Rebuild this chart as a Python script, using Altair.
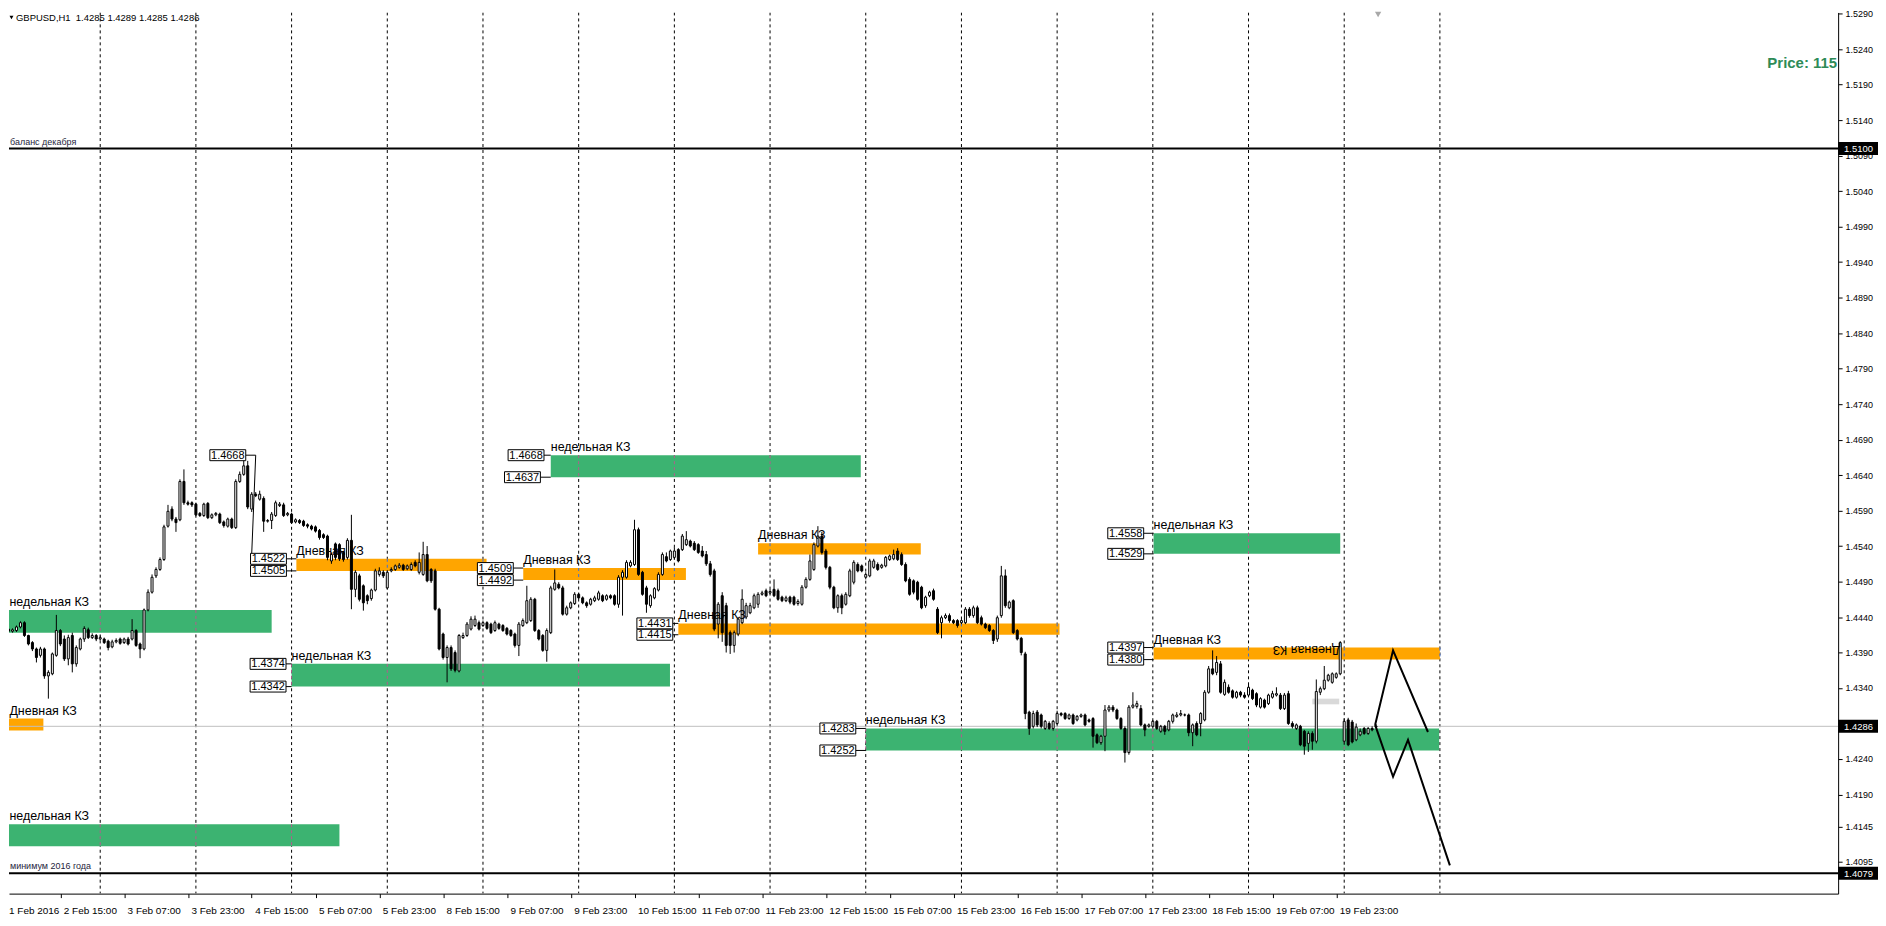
import altair as alt
import pandas as pd

# ------------------------------------------------------------------ data
# hourly candles, bar index 0 .. 344
opens = [
    1.4435, 1.4423, 1.4420, 1.4421, 1.4426, 1.4432, 1.4414, 1.4404, 1.4395, 1.4386,
    1.4395, 1.4357, 1.4360, 1.4386, 1.4421, 1.4409, 1.4381, 1.4414, 1.4374, 1.4395,
    1.4409, 1.4422, 1.4411, 1.4414, 1.4409, 1.4409, 1.4406, 1.4398, 1.4405, 1.4409,
    1.4404, 1.4409, 1.4409, 1.4421, 1.4402, 1.4395, 1.4450, 1.4475, 1.4498, 1.4507,
    1.4521, 1.4568, 1.4592, 1.4578, 1.4577, 1.4631, 1.4601, 1.4601, 1.4599, 1.4586,
    1.4583, 1.4600, 1.4580, 1.4584, 1.4585, 1.4574, 1.4568, 1.4578, 1.4566, 1.4631,
    1.4641, 1.4653, 1.4592, 1.4613, 1.4606, 1.4607, 1.4575, 1.4576, 1.4583, 1.4597,
    1.4598, 1.4584, 1.4585, 1.4574, 1.4576, 1.4575, 1.4570, 1.4568, 1.4567, 1.4562,
    1.4556, 1.4554, 1.4519, 1.4543, 1.4542, 1.4531, 1.4524, 1.4548, 1.4479, 1.4498,
    1.4484, 1.4470, 1.4466, 1.4478, 1.4500, 1.4503, 1.4481, 1.4505, 1.4507, 1.4510,
    1.4513, 1.4508, 1.4507, 1.4517, 1.4503, 1.4500, 1.4528, 1.4507, 1.4505, 1.4451,
    1.4416, 1.4383, 1.4397, 1.4390, 1.4364, 1.4411, 1.4414, 1.4423, 1.4428, 1.4432,
    1.4428, 1.4432, 1.4430, 1.4421, 1.4430, 1.4428, 1.4424, 1.4421, 1.4416, 1.4400,
    1.4428, 1.4432, 1.4435, 1.4465, 1.4421, 1.4414, 1.4393, 1.4418, 1.4479, 1.4486,
    1.4481, 1.4444, 1.4453, 1.4459, 1.4472, 1.4467, 1.4460, 1.4458, 1.4463, 1.4465,
    1.4470, 1.4465, 1.4470, 1.4470, 1.4458, 1.4496, 1.4496, 1.4512, 1.4514, 1.4563,
    1.4503, 1.4481, 1.4456, 1.4467, 1.4478, 1.4500, 1.4525, 1.4521, 1.4524, 1.4535,
    1.4535, 1.4542, 1.4547, 1.4544, 1.4542, 1.4533, 1.4528, 1.4515, 1.4505, 1.4430,
    1.4470, 1.4456, 1.4418, 1.4400, 1.4416, 1.4432, 1.4440, 1.4446, 1.4453, 1.4458,
    1.4472, 1.4477, 1.4474, 1.4479, 1.4477, 1.4468, 1.4463, 1.4468, 1.4468, 1.4459,
    1.4458, 1.4482, 1.4493, 1.4507, 1.4540, 1.4554, 1.4533, 1.4510, 1.4482, 1.4453,
    1.4470, 1.4458, 1.4470, 1.4489, 1.4514, 1.4512, 1.4496, 1.4498, 1.4510, 1.4514,
    1.4510, 1.4512, 1.4521, 1.4522, 1.4533, 1.4528, 1.4514, 1.4493, 1.4491, 1.4489,
    1.4482, 1.4456, 1.4470, 1.4477, 1.4451, 1.4432, 1.4439, 1.4442, 1.4435, 1.4435,
    1.4432, 1.4432, 1.4451, 1.4442, 1.4453, 1.4439, 1.4430, 1.4428, 1.4421, 1.4409,
    1.4442, 1.4498, 1.4453, 1.4463, 1.4421, 1.4410, 1.4388, 1.4306, 1.4286, 1.4306,
    1.4302, 1.4283, 1.4290, 1.4283, 1.4290, 1.4304, 1.4304, 1.4297, 1.4302, 1.4295,
    1.4300, 1.4302, 1.4295, 1.4297, 1.4274, 1.4263, 1.4272, 1.4309, 1.4313, 1.4309,
    1.4297, 1.4283, 1.4249, 1.4313, 1.4314, 1.4311, 1.4288, 1.4286, 1.4286, 1.4293,
    1.4279, 1.4286, 1.4281, 1.4293, 1.4300, 1.4302, 1.4302, 1.4302, 1.4277, 1.4290,
    1.4290, 1.4295, 1.4334, 1.4367, 1.4362, 1.4374, 1.4331, 1.4341, 1.4336, 1.4327,
    1.4334, 1.4330, 1.4330, 1.4337, 1.4332, 1.4313, 1.4323, 1.4318, 1.4327, 1.4330,
    1.4330, 1.4311, 1.4332, 1.4290, 1.4283, 1.4286, 1.4279, 1.4262, 1.4276, 1.4265,
    1.4334, 1.4339, 1.4351, 1.4348, 1.4355, 1.4360, 1.4265, 1.4295, 1.4292, 1.4267,
    1.4274, 1.4283, 1.4276, 1.4283, 1.4285,
]
highs = [
    1.4437, 1.4425, 1.4424, 1.4428, 1.4434, 1.4434, 1.4415, 1.4406, 1.4397, 1.4398,
    1.4397, 1.4365, 1.4390, 1.4443, 1.4423, 1.4414, 1.4415, 1.4418, 1.4400, 1.4411,
    1.4427, 1.4425, 1.4417, 1.4416, 1.4414, 1.4411, 1.4408, 1.4408, 1.4410, 1.4411,
    1.4411, 1.4412, 1.4437, 1.4423, 1.4404, 1.4452, 1.4479, 1.4500, 1.4510, 1.4524,
    1.4570, 1.4598, 1.4596, 1.4581, 1.4634, 1.4648, 1.4604, 1.4603, 1.4601, 1.4588,
    1.4601, 1.4602, 1.4586, 1.4588, 1.4587, 1.4576, 1.4580, 1.4580, 1.4634, 1.4645,
    1.4668, 1.4660, 1.4616, 1.4616, 1.4618, 1.4610, 1.4578, 1.4588, 1.4604, 1.4602,
    1.4601, 1.4588, 1.4587, 1.4579, 1.4578, 1.4577, 1.4572, 1.4570, 1.4569, 1.4564,
    1.4558, 1.4556, 1.4531, 1.4545, 1.4544, 1.4533, 1.4551, 1.4584, 1.4506, 1.4501,
    1.4486, 1.4472, 1.4480, 1.4508, 1.4510, 1.4506, 1.4506, 1.4510, 1.4514, 1.4516,
    1.4515, 1.4514, 1.4517, 1.4520, 1.4531, 1.4546, 1.4540, 1.4509, 1.4508, 1.4453,
    1.4418, 1.4400, 1.4400, 1.4393, 1.4416, 1.4418, 1.4433, 1.4441, 1.4442, 1.4435,
    1.4435, 1.4434, 1.4432, 1.4435, 1.4432, 1.4430, 1.4426, 1.4423, 1.4418, 1.4433,
    1.4438, 1.4484, 1.4468, 1.4467, 1.4423, 1.4416, 1.4424, 1.4484, 1.4507, 1.4489,
    1.4484, 1.4456, 1.4462, 1.4475, 1.4474, 1.4469, 1.4462, 1.4467, 1.4470, 1.4477,
    1.4472, 1.4472, 1.4472, 1.4472, 1.4499, 1.4506, 1.4520, 1.4520, 1.4577, 1.4566,
    1.4505, 1.4484, 1.4472, 1.4482, 1.4503, 1.4531, 1.4531, 1.4535, 1.4538, 1.4537,
    1.4557, 1.4561, 1.4549, 1.4547, 1.4544, 1.4540, 1.4533, 1.4519, 1.4508, 1.4461,
    1.4475, 1.4460, 1.4421, 1.4421, 1.4440, 1.4479, 1.4460, 1.4460, 1.4473, 1.4475,
    1.4477, 1.4480, 1.4479, 1.4493, 1.4480, 1.4470, 1.4470, 1.4470, 1.4470, 1.4465,
    1.4485, 1.4496, 1.4528, 1.4545, 1.4568, 1.4560, 1.4536, 1.4512, 1.4484, 1.4472,
    1.4473, 1.4475, 1.4508, 1.4520, 1.4517, 1.4514, 1.4503, 1.4522, 1.4522, 1.4517,
    1.4515, 1.4526, 1.4528, 1.4535, 1.4537, 1.4531, 1.4517, 1.4496, 1.4493, 1.4491,
    1.4484, 1.4470, 1.4477, 1.4480, 1.4454, 1.4442, 1.4445, 1.4445, 1.4437, 1.4437,
    1.4437, 1.4454, 1.4454, 1.4456, 1.4456, 1.4442, 1.4432, 1.4430, 1.4423, 1.4442,
    1.4512, 1.4507, 1.4463, 1.4465, 1.4423, 1.4412, 1.4391, 1.4308, 1.4308, 1.4309,
    1.4304, 1.4295, 1.4293, 1.4295, 1.4308, 1.4306, 1.4306, 1.4304, 1.4304, 1.4302,
    1.4304, 1.4304, 1.4297, 1.4299, 1.4276, 1.4274, 1.4316, 1.4316, 1.4316, 1.4311,
    1.4299, 1.4286, 1.4316, 1.4334, 1.4322, 1.4316, 1.4290, 1.4290, 1.4295, 1.4295,
    1.4288, 1.4288, 1.4295, 1.4304, 1.4306, 1.4309, 1.4304, 1.4304, 1.4290, 1.4293,
    1.4306, 1.4337, 1.4371, 1.4393, 1.4385, 1.4378, 1.4352, 1.4345, 1.4338, 1.4336,
    1.4336, 1.4334, 1.4345, 1.4339, 1.4334, 1.4327, 1.4325, 1.4332, 1.4336, 1.4341,
    1.4333, 1.4333, 1.4336, 1.4293, 1.4290, 1.4288, 1.4281, 1.4279, 1.4279, 1.4352,
    1.4342, 1.4371, 1.4360, 1.4362, 1.4362, 1.4406, 1.4297, 1.4298, 1.4295, 1.4290,
    1.4283, 1.4285, 1.4285, 1.4286, 1.4289,
]
lows = [
    1.4416, 1.4418, 1.4418, 1.4419, 1.4424, 1.4412, 1.4400, 1.4392, 1.4376, 1.4383,
    1.4353, 1.4325, 1.4358, 1.4384, 1.4399, 1.4378, 1.4372, 1.4362, 1.4370, 1.4393,
    1.4405, 1.4409, 1.4409, 1.4406, 1.4407, 1.4402, 1.4393, 1.4396, 1.4403, 1.4401,
    1.4402, 1.4400, 1.4407, 1.4398, 1.4382, 1.4393, 1.4448, 1.4473, 1.4495, 1.4505,
    1.4519, 1.4566, 1.4575, 1.4560, 1.4575, 1.4598, 1.4597, 1.4595, 1.4582, 1.4581,
    1.4581, 1.4578, 1.4578, 1.4582, 1.4571, 1.4566, 1.4566, 1.4564, 1.4564, 1.4629,
    1.4639, 1.4592, 1.4588, 1.4609, 1.4604, 1.4560, 1.4573, 1.4564, 1.4581, 1.4595,
    1.4581, 1.4582, 1.4571, 1.4572, 1.4571, 1.4567, 1.4565, 1.4562, 1.4559, 1.4549,
    1.4550, 1.4520, 1.4515, 1.4520, 1.4519, 1.4518, 1.4521, 1.4451, 1.4468, 1.4462,
    1.4449, 1.4458, 1.4463, 1.4476, 1.4497, 1.4495, 1.4479, 1.4503, 1.4505, 1.4508,
    1.4505, 1.4506, 1.4505, 1.4510, 1.4500, 1.4498, 1.4489, 1.4488, 1.4449, 1.4393,
    1.4380, 1.4348, 1.4364, 1.4362, 1.4362, 1.4409, 1.4412, 1.4421, 1.4426, 1.4421,
    1.4426, 1.4422, 1.4416, 1.4419, 1.4422, 1.4419, 1.4414, 1.4412, 1.4397, 1.4385,
    1.4426, 1.4430, 1.4433, 1.4419, 1.4407, 1.4391, 1.4377, 1.4416, 1.4477, 1.4479,
    1.4442, 1.4442, 1.4451, 1.4457, 1.4465, 1.4458, 1.4453, 1.4456, 1.4461, 1.4463,
    1.4461, 1.4463, 1.4465, 1.4456, 1.4453, 1.4442, 1.4494, 1.4510, 1.4512, 1.4498,
    1.4470, 1.4446, 1.4453, 1.4465, 1.4476, 1.4498, 1.4517, 1.4519, 1.4521, 1.4517,
    1.4533, 1.4540, 1.4538, 1.4533, 1.4529, 1.4524, 1.4512, 1.4497, 1.4420, 1.4410,
    1.4405, 1.4390, 1.4388, 1.4390, 1.4413, 1.4430, 1.4437, 1.4444, 1.4451, 1.4453,
    1.4470, 1.4468, 1.4472, 1.4468, 1.4463, 1.4461, 1.4461, 1.4458, 1.4456, 1.4456,
    1.4456, 1.4480, 1.4491, 1.4505, 1.4538, 1.4528, 1.4507, 1.4479, 1.4451, 1.4446,
    1.4444, 1.4456, 1.4468, 1.4486, 1.4503, 1.4503, 1.4493, 1.4496, 1.4508, 1.4505,
    1.4508, 1.4510, 1.4519, 1.4520, 1.4519, 1.4512, 1.4489, 1.4470, 1.4472, 1.4463,
    1.4451, 1.4453, 1.4468, 1.4463, 1.4416, 1.4410, 1.4437, 1.4432, 1.4430, 1.4425,
    1.4430, 1.4430, 1.4439, 1.4439, 1.4430, 1.4428, 1.4423, 1.4419, 1.4402, 1.4405,
    1.4439, 1.4453, 1.4451, 1.4416, 1.4407, 1.4386, 1.4296, 1.4274, 1.4283, 1.4285,
    1.4283, 1.4281, 1.4281, 1.4280, 1.4288, 1.4300, 1.4295, 1.4295, 1.4288, 1.4293,
    1.4298, 1.4286, 1.4291, 1.4256, 1.4261, 1.4260, 1.4251, 1.4306, 1.4306, 1.4295,
    1.4281, 1.4235, 1.4246, 1.4311, 1.4311, 1.4286, 1.4272, 1.4284, 1.4283, 1.4281,
    1.4277, 1.4274, 1.4279, 1.4290, 1.4298, 1.4300, 1.4300, 1.4272, 1.4258, 1.4272,
    1.4272, 1.4293, 1.4332, 1.4358, 1.4358, 1.4332, 1.4329, 1.4332, 1.4325, 1.4325,
    1.4327, 1.4325, 1.4327, 1.4323, 1.4313, 1.4311, 1.4311, 1.4316, 1.4325, 1.4328,
    1.4309, 1.4309, 1.4288, 1.4283, 1.4281, 1.4258, 1.4246, 1.4250, 1.4253, 1.4262,
    1.4330, 1.4337, 1.4349, 1.4346, 1.4353, 1.4358, 1.4260, 1.4258, 1.4262, 1.4265,
    1.4272, 1.4274, 1.4274, 1.4279, 1.4285,
]
closes = [
    1.4418, 1.4420, 1.4422, 1.4426, 1.4432, 1.4414, 1.4402, 1.4395, 1.4383, 1.4395,
    1.4357, 1.4362, 1.4388, 1.4421, 1.4402, 1.4381, 1.4411, 1.4374, 1.4397, 1.4409,
    1.4424, 1.4411, 1.4414, 1.4409, 1.4411, 1.4404, 1.4397, 1.4405, 1.4407, 1.4403,
    1.4409, 1.4402, 1.4421, 1.4400, 1.4395, 1.4450, 1.4475, 1.4496, 1.4507, 1.4521,
    1.4567, 1.4589, 1.4578, 1.4573, 1.4631, 1.4601, 1.4599, 1.4598, 1.4584, 1.4583,
    1.4599, 1.4580, 1.4584, 1.4586, 1.4573, 1.4569, 1.4578, 1.4566, 1.4631, 1.4641,
    1.4653, 1.4595, 1.4613, 1.4611, 1.4613, 1.4575, 1.4576, 1.4585, 1.4601, 1.4599,
    1.4583, 1.4586, 1.4573, 1.4577, 1.4573, 1.4569, 1.4568, 1.4564, 1.4561, 1.4552,
    1.4552, 1.4524, 1.4528, 1.4524, 1.4522, 1.4521, 1.4548, 1.4479, 1.4503, 1.4465,
    1.4460, 1.4463, 1.4478, 1.4505, 1.4505, 1.4498, 1.4503, 1.4507, 1.4512, 1.4513,
    1.4507, 1.4512, 1.4514, 1.4512, 1.4517, 1.4528, 1.4491, 1.4491, 1.4451, 1.4395,
    1.4383, 1.4397, 1.4367, 1.4365, 1.4414, 1.4414, 1.4430, 1.4437, 1.4437, 1.4423,
    1.4432, 1.4424, 1.4418, 1.4432, 1.4424, 1.4421, 1.4416, 1.4414, 1.4400, 1.4430,
    1.4435, 1.4463, 1.4465, 1.4421, 1.4409, 1.4393, 1.4421, 1.4481, 1.4488, 1.4481,
    1.4444, 1.4453, 1.4460, 1.4472, 1.4467, 1.4460, 1.4456, 1.4465, 1.4467, 1.4474,
    1.4463, 1.4470, 1.4467, 1.4458, 1.4496, 1.4503, 1.4517, 1.4517, 1.4563, 1.4500,
    1.4472, 1.4458, 1.4470, 1.4480, 1.4500, 1.4528, 1.4519, 1.4533, 1.4533, 1.4519,
    1.4554, 1.4549, 1.4540, 1.4535, 1.4531, 1.4526, 1.4515, 1.4500, 1.4423, 1.4458,
    1.4418, 1.4400, 1.4400, 1.4418, 1.4437, 1.4465, 1.4456, 1.4456, 1.4470, 1.4472,
    1.4474, 1.4470, 1.4476, 1.4470, 1.4465, 1.4463, 1.4467, 1.4461, 1.4458, 1.4462,
    1.4482, 1.4493, 1.4519, 1.4542, 1.4554, 1.4531, 1.4510, 1.4482, 1.4453, 1.4470,
    1.4453, 1.4472, 1.4505, 1.4517, 1.4505, 1.4505, 1.4500, 1.4519, 1.4519, 1.4507,
    1.4513, 1.4524, 1.4526, 1.4528, 1.4521, 1.4514, 1.4491, 1.4472, 1.4475, 1.4465,
    1.4453, 1.4468, 1.4475, 1.4465, 1.4418, 1.4439, 1.4442, 1.4435, 1.4432, 1.4428,
    1.4435, 1.4451, 1.4442, 1.4453, 1.4432, 1.4430, 1.4425, 1.4421, 1.4407, 1.4439,
    1.4498, 1.4456, 1.4461, 1.4418, 1.4409, 1.4390, 1.4304, 1.4283, 1.4304, 1.4288,
    1.4286, 1.4293, 1.4283, 1.4293, 1.4304, 1.4302, 1.4297, 1.4302, 1.4290, 1.4300,
    1.4302, 1.4288, 1.4293, 1.4272, 1.4263, 1.4272, 1.4309, 1.4313, 1.4309, 1.4297,
    1.4283, 1.4249, 1.4313, 1.4316, 1.4318, 1.4288, 1.4281, 1.4288, 1.4293, 1.4283,
    1.4286, 1.4279, 1.4293, 1.4302, 1.4302, 1.4304, 1.4302, 1.4277, 1.4288, 1.4274,
    1.4304, 1.4334, 1.4367, 1.4360, 1.4376, 1.4334, 1.4348, 1.4334, 1.4327, 1.4334,
    1.4330, 1.4327, 1.4341, 1.4325, 1.4316, 1.4325, 1.4313, 1.4330, 1.4332, 1.4332,
    1.4311, 1.4330, 1.4290, 1.4286, 1.4288, 1.4260, 1.4258, 1.4276, 1.4265, 1.4335,
    1.4339, 1.4351, 1.4358, 1.4360, 1.4360, 1.4404, 1.4293, 1.4260, 1.4264, 1.4285,
    1.4279, 1.4276, 1.4283, 1.4281, 1.4286,
]

price_ticks = [1.5290, 1.5240, 1.5190, 1.5140, 1.5090, 1.5040, 1.4990, 1.4940,
               1.4890, 1.4840, 1.4790, 1.4740, 1.4690, 1.4640, 1.4590, 1.4540,
               1.4490, 1.4440, 1.4390, 1.4340, 1.4290, 1.4240, 1.4190, 1.4145,
               1.4095, 1.4045]
date_labels = ["2 Feb 15:00", "3 Feb 07:00", "3 Feb 23:00", "4 Feb 15:00", "5 Feb 07:00",
               "5 Feb 23:00", "8 Feb 15:00", "9 Feb 07:00", "9 Feb 23:00", "10 Feb 15:00",
               "11 Feb 07:00", "11 Feb 23:00", "12 Feb 15:00", "15 Feb 07:00", "15 Feb 23:00",
               "16 Feb 15:00", "17 Feb 07:00", "17 Feb 23:00", "18 Feb 15:00", "19 Feb 07:00",
               "19 Feb 23:00"]
first_date_label = "1 Feb 2016"
title_text = "GBPUSD,H1\u00a0 1.4285 1.4289 1.4285 1.4286"
price_note = "Price: 115"

# key zones (weekly = green, daily = orange)
zone_start = [-0.75, -0.75, 1.0, 73.2, 72.0, 130.1, 137.0, 189.0, 169.0, 216.0, 288.2, 288.2]
zone_end = [67.0, 9.75, 84.0, 120.9, 166.9, 170.9, 214.75, 229.8, 264.6, 359.8, 335.0, 360.0]
zone_top = [1.4450, 1.4297, 1.4148, 1.4522, 1.4374, 1.4509, 1.4668, 1.4544, 1.4431, 1.4283, 1.4558, 1.4397]
zone_bottom = [1.4418, 1.4280, 1.4117, 1.4505, 1.4342, 1.4492, 1.4637, 1.4528, 1.4415, 1.4252, 1.4529, 1.4380]
zone_kind = ["w", "d", "w", "d", "w", "d", "w", "d", "d", "w", "w", "d"]
kind_label = {"w": "недельная КЗ", "d": "Дневная КЗ"}
kind_color = {"w": "#3CB371", "d": "#FFA500"}
kind_grid_color = {"w": "#B65A8E", "d": "#3F6FD8"}

# price label boxes
box_price = [1.4668, 1.4522, 1.4505, 1.4374, 1.4342, 1.4509, 1.4492, 1.4668, 1.4637,
             1.4431, 1.4415, 1.4283, 1.4252, 1.4558, 1.4529, 1.4397, 1.4380]
box_right = [60.5, 70.7, 70.7, 70.6, 70.6, 127.6, 127.6, 135.3, 134.4,
             167.6, 167.6, 213.5, 213.5, 285.7, 285.7, 285.7, 285.7]
box_tick_to = [63.0, 73.2, 73.2, 72.0, 72.0, 130.1, 130.1, 137.0, 137.0,
               169.0, 169.0, 216.0, 216.0, 288.2, 288.2, 288.2, 288.2]

peak_link_bar = [63.0, 62.0]
peak_link_price = [1.4668, 1.4529]

level_prices = [1.5100, 1.4079]
level_notes = ["баланс декабря", "минимум 2016 года"]
bid_price = 1.4286
tag_prices = [1.5100, 1.4286, 1.4079]

zz_path = ["a", "a", "a", "b", "b", "b", "b"]
zz_bar = [343.75, 348.25, 357.0, 343.75, 348.25, 352.0, 362.5]
zz_price = [1.4288, 1.4393, 1.4278, 1.4288, 1.4215, 1.4267, 1.4090]

grey_box_bar = [328.0, 334.75]
grey_box_price = [1.4325, 1.4317]
flip_label = "Дневная КЗ"
flip_bar = 335.0
flip_price = 1.4394
shift_marker_bar = 344.5

# ------------------------------------------------------------------ layout
W, H = 1835, 884
X_MIN = 1.125
X_MAX = X_MIN + W / 4.0
Y_MIN, Y_MAX = 1.40503, 1.52918
PPP = H / (Y_MAX - Y_MIN)          # pixels per price unit
FONT = "Liberation Sans"

xs = alt.Scale(domain=[X_MIN, X_MAX], nice=False, zero=False)
ys = alt.Scale(domain=[Y_MIN, Y_MAX], nice=False, zero=False)

tick_bars = [14 + 16 * k for k in range(len(date_labels))]
label_expr = "[" + ",".join("'" + s + "'" for s in date_labels) + "][round((datum.value - 14) / 16)]"

xaxis = alt.Axis(values=tick_bars, labelExpr=label_expr, grid=False, title=None,
                 domainColor="black", domainWidth=1, tickColor="black", tickSize=4,
                 labelFont=FONT, labelFontSize=10, labelColor="black", labelAlign="left",
                 labelPadding=8, labelOffset=3, labelOverlap=False, labelBound=False,
                 labelFlush=False)
yaxis = alt.Axis(orient="right", values=price_ticks, format=".4f", grid=False, title=None,
                 domainColor="black", domainWidth=1, tickColor="black", tickSize=4,
                 labelFont=FONT, labelFontSize=9, labelColor="black", labelPadding=3,
                 labelOverlap=False, labelBound=False, labelFlush=False)


def X(field):
    return alt.X(field, scale=xs, axis=xaxis)


def Y(field):
    return alt.Y(field, scale=ys, axis=yaxis)


one = pd.DataFrame({"a": [0]})

# candles
n = min(len(opens), len(highs), len(lows), len(closes))
cdf = pd.DataFrame({"i": list(range(n)), "o": opens[:n], "h": highs[:n],
                    "l": lows[:n], "c": closes[:n]})
cdf["lo"] = cdf[["o", "c"]].min(axis=1)
cdf["hi"] = cdf[["o", "c"]].max(axis=1)
cdf["x0"] = cdf["i"] - 0.25
cdf["x1"] = cdf["i"] + 0.25
cdf["fill"] = ["white" if c >= o else "black" for o, c in zip(cdf["o"], cdf["c"])]

# zones
zdf = pd.DataFrame({"x0": zone_start, "x1": zone_end, "top": zone_top, "bot": zone_bottom,
                    "kind": zone_kind})
zdf["col"] = [kind_color[k] for k in zone_kind]
zdf["label"] = [kind_label[k] for k in zone_kind]
zdf["lx"] = [max(s, X_MIN + 0.1) for s in zone_start]

# period separators (only across the bars that exist)
grid_bars = [24 * k for k in range(1, 16)]
grid_df = pd.DataFrame({"i": grid_bars})
seg_rows = []
for s, e, t, b, k in zip(zone_start, zone_end, zone_top, zone_bottom, zone_kind):
    for g in grid_bars:
        if s <= g <= e:
            seg_rows.append({"i": g, "top": t, "bot": b, "col": kind_grid_color[k]})
seg_df = pd.DataFrame(seg_rows)

# boxes
half_box = 5.5 / PPP
bdf = pd.DataFrame({"p": box_price, "x1": box_right, "xt": box_tick_to})
bdf["x0"] = bdf["x1"] - 9.0
bdf["xm"] = bdf["x1"] - 4.5
bdf["p0"] = bdf["p"] - half_box
bdf["p1"] = bdf["p"] + half_box
bdf["txt"] = [f"{p:.4f}" for p in box_price]

# tags
half_tag = 6.5 / PPP
tdf = pd.DataFrame({"p": tag_prices})
tdf["p0"] = tdf["p"] - half_tag
tdf["p1"] = tdf["p"] + half_tag
tdf["txt"] = [f"{p:.4f}" for p in tag_prices]

layers = []

wicks = alt.Chart(cdf).mark_rule(color="black", strokeWidth=1, clip=True).encode(
    x=X("i:Q"), y=Y("l:Q"), y2="h:Q")

# vertical dashed period separators
layers.append(alt.Chart(grid_df).mark_rule(color="black", strokeWidth=1, strokeDash=[3, 3],
                                           clip=True).encode(
    x=X("i:Q"), y=alt.value(0), y2=alt.value(H)))

# zones (background objects)
layers.append(alt.Chart(zdf).mark_rect(clip=True).encode(
    x=X("x0:Q"), x2="x1:Q", y=Y("top:Q"), y2="bot:Q",
    color=alt.Color("col:N", scale=None)))

# separators seen through the zones
layers.append(alt.Chart(seg_df).mark_rule(strokeWidth=1, strokeDash=[3, 3], clip=True).encode(
    x=X("i:Q"), y=Y("top:Q"), y2="bot:Q", color=alt.Color("col:N", scale=None)))

# horizontal levels
layers.append(alt.Chart(pd.DataFrame({"p": level_prices})).mark_rule(
    color="black", strokeWidth=2).encode(y=Y("p:Q"), x=alt.value(0), x2=alt.value(W)))
layers.append(alt.Chart(pd.DataFrame({"p": [bid_price]})).mark_rule(
    color="#c0c0c0", strokeWidth=1).encode(y=Y("p:Q"), x=alt.value(0), x2=alt.value(W)))

# level notes
layers.append(alt.Chart(pd.DataFrame({"p": level_prices, "t": level_notes})).mark_text(
    align="left", baseline="bottom", dy=-2, font=FONT, fontSize=9, color="#1e1e3c").encode(
    x=alt.value(1), y=Y("p:Q"), text="t:N"))

# small grey marker box
layers.append(alt.Chart(pd.DataFrame({"x0": [grey_box_bar[0]], "x1": [grey_box_bar[1]],
                                      "p0": [grey_box_price[0]], "p1": [grey_box_price[1]]}))
              .mark_rect(color="#d9d9d9").encode(x=X("x0:Q"), x2="x1:Q", y=Y("p0:Q"), y2="p1:Q"))

layers.append(wicks)

# candle bodies
layers.append(alt.Chart(cdf).mark_rect(stroke="black", strokeWidth=1, clip=True).encode(
    x=X("x0:Q"), x2="x1:Q", y=Y("lo:Q"), y2="hi:Q",
    fill=alt.Fill("fill:N", scale=None)))

# projected zigzag
layers.append(alt.Chart(pd.DataFrame({"path": zz_path, "i": zz_bar, "p": zz_price,
                                      "seq": list(range(len(zz_bar)))}))
              .mark_line(color="black", strokeWidth=2).encode(
    x=X("i:Q"), y=Y("p:Q"), detail="path:N", order="seq:Q"))

# connector from the 1.4668 high label
layers.append(alt.Chart(pd.DataFrame({"i": peak_link_bar, "p": peak_link_price,
                                      "seq": [0, 1]}))
              .mark_line(color="black", strokeWidth=1).encode(
    x=X("i:Q"), y=Y("p:Q"), order="seq:Q"))

# price label ticks + boxes + text
layers.append(alt.Chart(bdf).mark_rule(color="black", strokeWidth=1).encode(
    x=X("x1:Q"), x2="xt:Q", y=Y("p:Q")))
layers.append(alt.Chart(bdf).mark_rect(fill="white", stroke="black", strokeWidth=1).encode(
    x=X("x0:Q"), x2="x1:Q", y=Y("p0:Q"), y2="p1:Q"))
layers.append(alt.Chart(bdf).mark_text(font=FONT, fontSize=11, color="black",
                                       align="center", baseline="middle", dy=0.5).encode(
    x=X("xm:Q"), y=Y("p:Q"), text="txt:N"))

# zone captions
layers.append(alt.Chart(zdf).mark_text(align="left", baseline="bottom", dy=-1, font=FONT,
                                       fontSize=12.5, color="black").encode(
    x=X("lx:Q"), y=Y("top:Q"), text="label:N"))
layers.append(alt.Chart(pd.DataFrame({"i": [flip_bar], "p": [flip_price], "t": [flip_label]}))
              .mark_text(angle=180, align="left", baseline="middle", font=FONT,
                         fontSize=12.5, color="black").encode(
    x=X("i:Q"), y=Y("p:Q"), text="t:N"))

# title, price note, first date label, shift marker
layers.append(alt.Chart(one).mark_point(shape="triangle-down", filled=True, size=16,
                                        color="black", opacity=1).encode(
    x=alt.value(2.5), y=alt.value(5)))
layers.append(alt.Chart(one).mark_text(align="left", baseline="middle", font=FONT,
                                       fontSize=9.5, color="black").encode(
    x=alt.value(7), y=alt.value(6), text=alt.value(title_text)))
layers.append(alt.Chart(one).mark_text(align="right", baseline="middle", font=FONT,
                                       fontSize=15, fontWeight="bold", color="#2E8B57").encode(
    x=alt.value(W - 1), y=alt.value(51), text=alt.value(price_note)))
layers.append(alt.Chart(one).mark_text(align="left", baseline="top", font=FONT,
                                       fontSize=10, color="black").encode(
    x=alt.value(0), y=alt.value(H + 12), text=alt.value(first_date_label)))
layers.append(alt.Chart(pd.DataFrame({"i": [shift_marker_bar]})).mark_point(
    shape="triangle-down", filled=True, size=40, color="#a8a8a8", opacity=1).encode(
    x=X("i:Q"), y=alt.value(2)))

# price tags on the right scale
layers.append(alt.Chart(tdf).mark_rect(color="black").encode(
    x=alt.value(W), x2=alt.value(W + 40), y=Y("p0:Q"), y2="p1:Q"))
layers.append(alt.Chart(tdf).mark_text(font=FONT, fontSize=9.5, color="white",
                                       align="left", baseline="middle", dy=0.5).encode(
    x=alt.value(W + 6), y=Y("p:Q"), text="txt:N"))

chart = alt.layer(*layers).properties(
    width=W, height=H, padding={"left": 0, "top": 0, "right": 0, "bottom": 0},
    background="white",
).configure_view(stroke=None)

chart.save("out.html", embed_options={"renderer": "svg", "actions": False})
